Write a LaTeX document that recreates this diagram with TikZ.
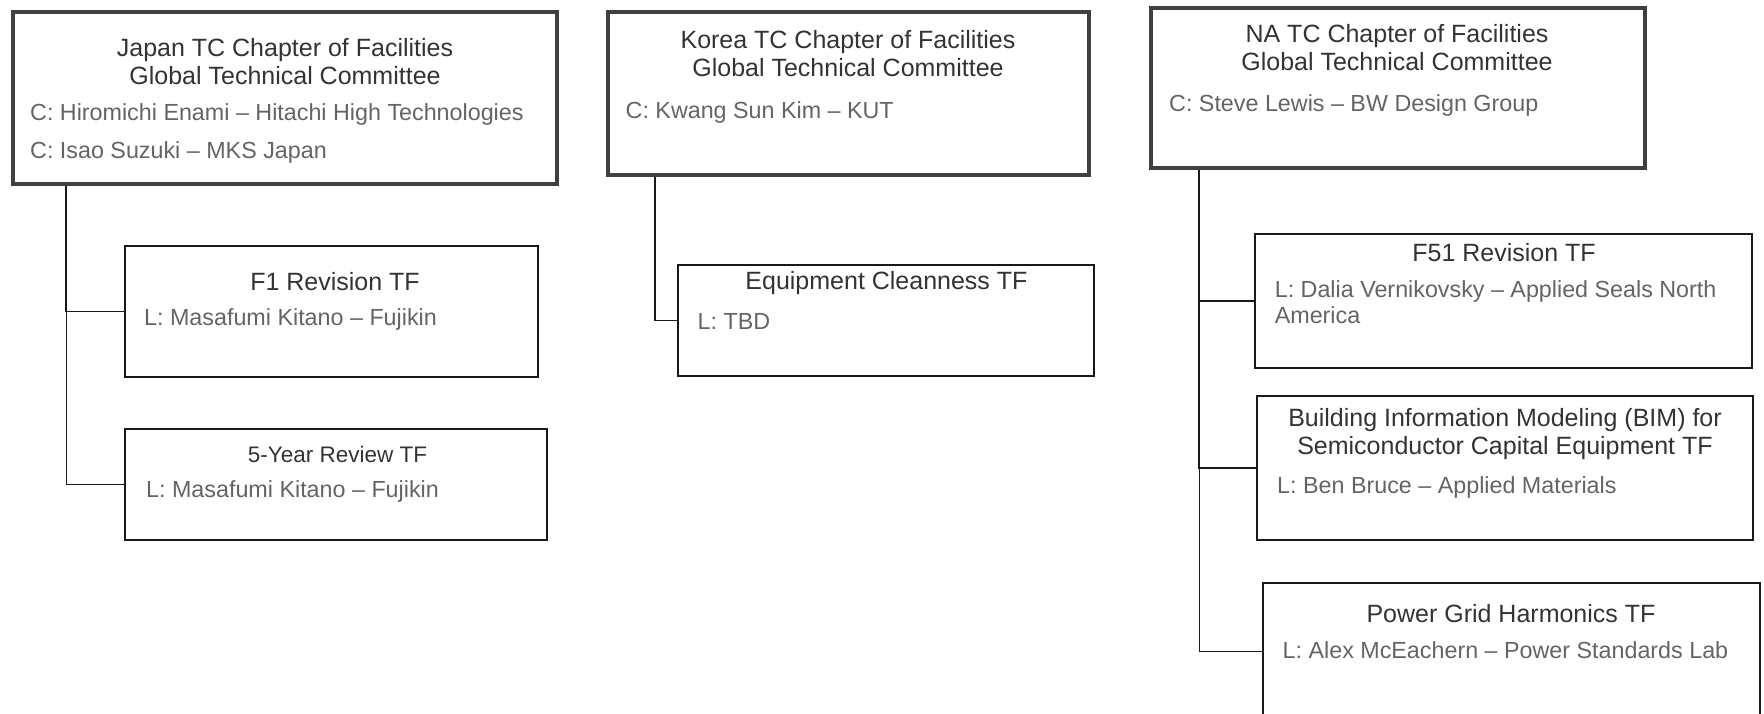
\documentclass[tikz,border=0pt]{standalone}
\usepackage{fontspec}
\setmainfont{Liberation Sans}
\usetikzlibrary{positioning, calc}
\definecolor{chaptercolor}{RGB}{64,64,64}
\definecolor{titlecolor}{RGB}{51,51,51}
\definecolor{membercolor}{RGB}{100,100,100}

\begin{document}
\begin{tikzpicture}[
    x=1pt, y=-1pt,
    chapter/.style={draw=chaptercolor, line width=4.5pt, inner sep=0pt},
    taskforce/.style={draw=black!90, line width=1.8pt, inner sep=0pt},
    heading/.style={font=\fontsize{25}{28}\selectfont, text=titlecolor, align=center, inner sep=0pt},
    member/.style={font=\fontsize{23.3}{26}\selectfont, text=membercolor, align=left, anchor=base west, inner sep=0pt},
    link/.style={draw=black!90, line width=1.8pt},
    sublink/.style={draw=black!90, line width=1pt}
]
    \useasboundingbox (0,0) rectangle (1764,714);

    % Japan chapter
    \node[chapter, minimum width=544pt, minimum height=172pt] (japan) at (285,98) {};
    \node[heading] (japantitle) at (285,62) {Japan TC Chapter of Facilities\\Global Technical Committee};
    % base of a two-line member node sits on its last line
    \node[member] (japanchair) at (30,158.5) {C: Hiromichi Enami -- Hitachi High Technologies\\[11.5pt]C: Isao Suzuki -- MKS Japan};

    \node[taskforce, minimum width=413pt, minimum height=131pt] (f1) at (331.5,311.5) {};
    \node[heading] (f1title) at (335,281.5) {F1 Revision TF};
    \node[member] (f1lead) at (144,325.5) {L: Masafumi Kitano -- Fujikin};

    \node[taskforce, minimum width=422pt, minimum height=111pt] (review) at (336,484.5) {};
    \node[heading, font=\fontsize{22.5}{26}\selectfont] (reviewtitle) at (337.5,454.5) {5-Year Review TF};
    \node[member] (reviewlead) at (146,497.5) {L: Masafumi Kitano -- Fujikin};

    % Korea chapter
    \node[chapter, minimum width=481pt, minimum height=163pt] (korea) at (848.5,93.5) {};
    \node[heading] (koreatitle) at (848,53.5) {Korea TC Chapter of Facilities\\Global Technical Committee};
    \node[member] (koreachair) at (625.5,118.5) {C: Kwang Sun Kim -- KUT};

    \node[taskforce, minimum width=416pt, minimum height=111pt] (cleanness) at (886,320.5) {};
    \node[heading] (cleannesstitle) at (886.5,283.5) {Equipment Cleanness TF};
    \node[member] (cleannesslead) at (697.5,329) {L: TBD};

    % NA chapter
    \node[chapter, minimum width=494pt, minimum height=160pt] (na) at (1398,88) {};
    \node[heading] (natitle) at (1397,48) {NA TC Chapter of Facilities\\Global Technical Committee};
    \node[member] (nachair) at (1169,112) {C: Steve Lewis -- BW Design Group};

    \node[taskforce, minimum width=497pt, minimum height=134pt] (f51) at (1503.5,301) {};
    \node[heading] (f51title) at (1504,252.5) {F51 Revision TF};
    \node[member] (f51lead) at (1274.6,323.5) {L: Dalia Vernikovsky -- Applied Seals North\\America};

    \node[taskforce, minimum width=496pt, minimum height=144pt] (bim) at (1505,468) {};
    \node[heading] (bimtitle) at (1505,434.5) {Building Information Modeling (BIM) for\\Semiconductor Capital Equipment TF};
    \node[member] (bimlead) at (1277,493.5) {L: Ben Bruce -- Applied Materials};

    \node[taskforce, minimum width=497pt, minimum height=137pt] (power) at (1511.5,651.5) {};
    \node[heading] (powertitle) at (1511,613.5) {Power Grid Harmonics TF};
    \node[member] (powerlead) at (1282.5,658.5) {L: Alex McEachern -- Power Standards Lab};

    % Connectors
    \coordinate (jtrunk) at (66,0);
    \coordinate (ktrunk) at (655,0);
    \coordinate (ntrunk) at (1199,0);
    \draw[link] (jtrunk |- japan.south) |- (f1.west);
    \draw[sublink] (jtrunk |- f1.west) |- (review.west);
    \draw[link] (ktrunk |- korea.south) |- (cleanness.west);
    \draw[link] (ntrunk |- na.south) |- (f51.west);
    \draw[link] (ntrunk |- f51.west) |- (bim.west);
    \draw[sublink] (ntrunk |- bim.west) |- (power.west);
\end{tikzpicture}
\end{document}
